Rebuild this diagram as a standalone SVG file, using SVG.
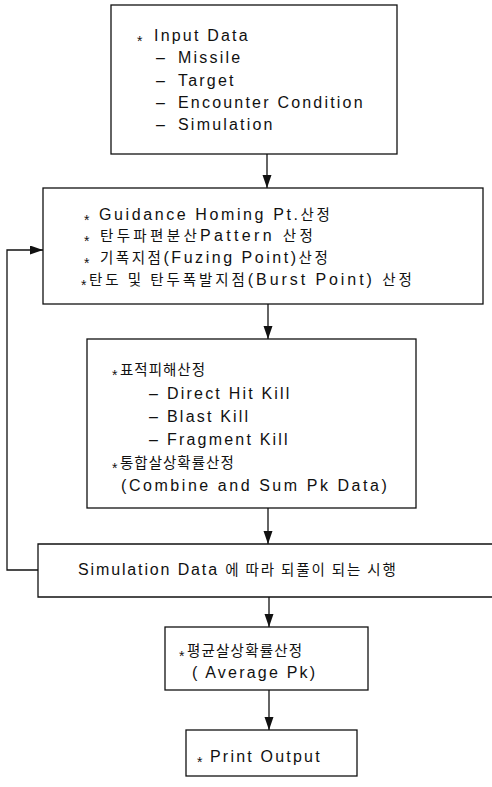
<svg xmlns="http://www.w3.org/2000/svg" width="492" height="787" viewBox="0 0 492 787">
<style>
.box{fill:none;stroke:#111;stroke-width:1.3}
.t{font-family:"Liberation Sans","Noto Sans CJK KR",sans-serif;font-size:16px;fill:#111;letter-spacing:2.2px}
.k{font-family:"Noto Sans CJK KR",sans-serif;font-size:14.5px}
.st{font-family:"Liberation Sans",sans-serif;font-size:14px;fill:#111}
.c{fill:none;stroke:#111;stroke-width:1.3}
</style>
<defs>
<marker id="ah" markerUnits="userSpaceOnUse" markerWidth="14" markerHeight="10" refX="13" refY="4.5" orient="auto">
<path d="M0,0 L13,4.5 L0,9 z" fill="#111"/>
</marker>
</defs>
<g id="n1">
<rect class="box" x="111" y="5" width="286" height="149"/>
<text class="st" x="137" y="46">*</text>
<text class="t" x="154" y="41">Input Data</text>
<text class="t" x="156" y="63">–</text><text class="t" x="178" y="63">Missile</text>
<text class="t" x="156" y="86">–</text><text class="t" x="178" y="86">Target</text>
<text class="t" x="156" y="108">–</text><text class="t" x="178" y="108">Encounter Condition</text>
<text class="t" x="156" y="130">–</text><text class="t" x="178" y="130">Simulation</text>
</g>
<g id="n2">
<rect class="box" x="43" y="188" width="440" height="116"/>
<text class="st" x="84" y="225">*</text>
<text class="t" x="99" y="220" textLength="233" lengthAdjust="spacing">Guidance Homing Pt.<tspan class="k">산정</tspan></text>
<text class="st" x="84" y="246">*</text>
<text class="t" x="100" y="241" textLength="215" lengthAdjust="spacing"><tspan class="k">탄두파편분산</tspan>Pattern <tspan class="k">산정</tspan></text>
<text class="st" x="84" y="268">*</text>
<text class="t" x="100" y="263" textLength="230" lengthAdjust="spacing"><tspan class="k">기폭지점</tspan>(Fuzing Point)<tspan class="k">산정</tspan></text>
<text class="st" x="81" y="290">*</text>
<text class="t" x="89" y="285" textLength="325" lengthAdjust="spacing"><tspan class="k">탄도 및 탄두폭발지점</tspan>(Burst Point) <tspan class="k">산정</tspan></text>
</g>
<g id="n3">
<rect class="box" x="87" y="339" width="329" height="169"/>
<text class="st" x="112" y="380">*</text>
<text class="t k" x="120" y="375" style="letter-spacing:1px">표적피해산정</text>
<text class="t" x="149" y="399">–</text><text class="t" x="167" y="399">Direct Hit Kill</text>
<text class="t" x="149" y="422">–</text><text class="t" x="167" y="422">Blast Kill</text>
<text class="t" x="149" y="445">–</text><text class="t" x="167" y="445">Fragment Kill</text>
<text class="st" x="112" y="473">*</text>
<text class="t k" x="120" y="468" style="letter-spacing:1px">통합살상확률산정</text>
<text class="t" x="121" y="491" textLength="268" lengthAdjust="spacing">(Combine and Sum Pk Data)</text>
</g>
<g id="n4">
<path class="box" d="M492,544 H38 V597 H492"/>
<text class="t" x="78" y="575" textLength="320" lengthAdjust="spacing">Simulation Data <tspan class="k">에 따라 되풀이 되는 시행</tspan></text>
</g>
<g id="n5">
<rect class="box" x="165" y="627" width="203" height="63"/>
<text class="st" x="179" y="661">*</text>
<text class="t k" x="187" y="656" style="letter-spacing:1.2px">평균살상확률산정</text>
<text class="t" x="192" y="678">( Average Pk)</text>
</g>
<g id="n6">
<rect class="box" x="186" y="730" width="171" height="46"/>
<text class="st" x="197" y="767">*</text>
<text class="t" x="210" y="762">Print Output</text>
</g>
<g id="connectors">
<line class="c" x1="267" y1="154" x2="267" y2="188" marker-end="url(#ah)"/>
<line class="c" x1="268" y1="304" x2="268" y2="339" marker-end="url(#ah)"/>
<line class="c" x1="268" y1="508" x2="268" y2="544" marker-end="url(#ah)"/>
<line class="c" x1="269" y1="597" x2="269" y2="627" marker-end="url(#ah)"/>
<line class="c" x1="269" y1="690" x2="269" y2="730" marker-end="url(#ah)"/>
<polyline class="c" points="38,570 7,570 7,250 43,250" marker-end="url(#ah)"/>
</g>
</svg>
